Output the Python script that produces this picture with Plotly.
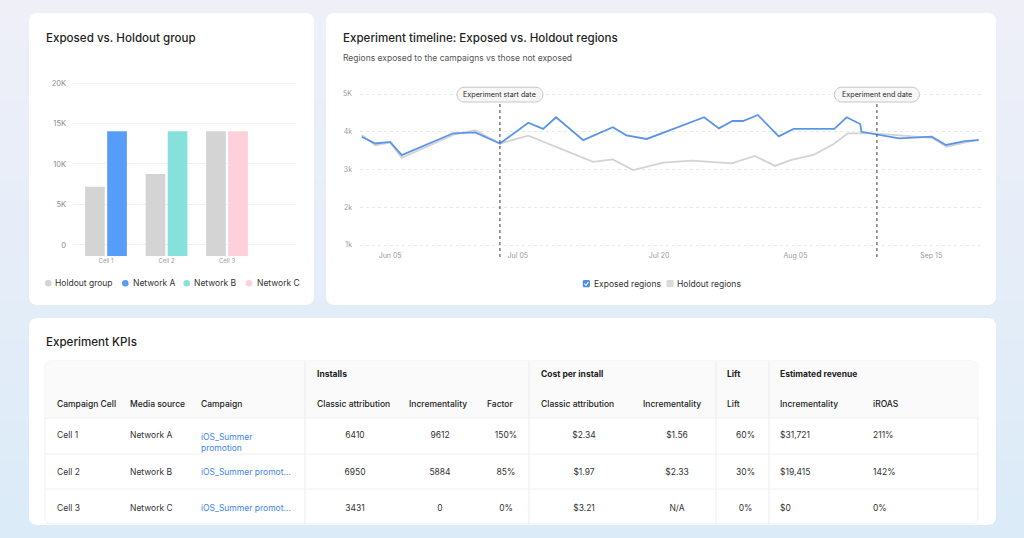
import plotly.graph_objects as go

W, H = 1024, 538
FONT = "Inter"

# ---------------- data: bar chart ----------------
CELLS = ["Cell 1", "Cell 2", "Cell 3"]
HOLDOUT_GROUP = [7200, 8750, 14050]
NETWORKS = ["Network A", "Network B", "Network C"]
NETWORK_VALUES = [14050, 14050, 14050]
BAR_TICKS = [0, 5000, 10000, 15000, 20000]
BAR_TICK_TEXT = ["0", "5K", "10K", "15K", "20K"]

# ---------------- data: timeline ----------------
T_EXPOSED = [0, 2.2, 4.6, 6.5, 14.8, 18.4, 22.4, 27.0, 29.4, 31.5, 35.9, 40.7, 42.9, 46.2,
             50.0, 55.5, 57.9, 60.1, 61.8, 64.2, 67.6, 70.0, 76.6, 78.6, 80.8, 81.0, 87.1,
             92.4, 94.7, 97.8, 100]
EXPOSED = [3870, 3690, 3730, 3380, 3960, 3985, 3690, 4240, 4075, 4385, 3780, 4120, 3905, 3810,
           4045, 4385, 4090, 4285, 4285, 4445, 3880, 4075, 4075, 4385, 4205, 4000, 3825,
           3870, 3650, 3755, 3780]
T_HOLDOUT = [0, 2.2, 4.6, 6.5, 14.8, 18.4, 22.4, 27.0, 37.5, 40.7, 44.0, 48.9, 53.5, 60.0,
             63.7, 67.0, 69.5, 73.2, 76.5, 78.8, 82.9, 87.1, 92.4, 94.8, 100]
HOLDOUT_REGIONS = [3915, 3640, 3710, 3310, 3915, 4045, 3690, 3895, 3205, 3270, 2985, 3180,
                   3235, 3165, 3360, 3095, 3250, 3385, 3675, 3960, 3960, 3900, 3840, 3600, 3800]
EXPERIMENT_START = 22.4
EXPERIMENT_END = 83.5
DATE_TICKS = [4.6, 25.3, 48.2, 70.3, 92.3]
DATE_TICK_TEXT = ["Jun 05", "Jul 05", "Jul 20", "Aug 05", "Sep 15"]
LINE_TICKS = [1000, 2000, 3000, 4000, 5000]
LINE_TICK_TEXT = ["1k", "2k", "3k", "4k", "5K"]

# ---------------- data: KPI table ----------------
TABLE_GROUPS = ["", "", "", "Installs", "", "", "Cost per install", "", "Lift",
                "Estimated revenue", ""]
TABLE_COLUMNS = ["Campaign Cell", "Media source", "Campaign", "Classic attribution",
                 "Incrementality", "Factor", "Classic attribution", "Incrementality", "Lift",
                 "Incrementality", "iROAS"]
CAMPAIGN_CELL = ["Cell 1", "Cell 2", "Cell 3"]
MEDIA_SOURCE = ["Network A", "Network B", "Network C"]
CAMPAIGN = ["iOS_Summer<br>promotion", "iOS_Summer promot…", "iOS_Summer promot…"]
INSTALLS_CLASSIC = [6410, 6950, 3431]
INSTALLS_INCR = [9612, 5884, 0]
FACTOR = ["150%", "85%", "0%"]
CPI_CLASSIC = [2.34, 1.97, 3.21]
CPI_INCR = [1.56, 2.33, None]
LIFT = ["60%", "30%", "0%"]
REV_INCR = [31721, 19415, 0]
IROAS = ["211%", "142%", "0%"]

# ---------------- styles ----------------
HOLDOUT_COLOR = "#d4d4d4"
NET_COLORS = ["#579cf8", "#86e1dc", "#fdd0dc"]
BLUE_LINE = "#5b95ea"
GRAY_LINE = "#d3d3d3"
TXT = "#1f1f1f"
BAR_FLOOR = -1400


def P(x, y):
    return f"{x / W:.5f},{1 - y / H:.5f}"


def rrect_path(x0, y0, x1, y1, r, fmt=P):
    c = 0.4477 * r
    return (f"M{fmt(x0 + r, y0)} L{fmt(x1 - r, y0)} C{fmt(x1 - c, y0)} {fmt(x1, y0 + c)} {fmt(x1, y0 + r)} "
            f"L{fmt(x1, y1 - r)} C{fmt(x1, y1 - c)} {fmt(x1 - c, y1)} {fmt(x1 - r, y1)} "
            f"L{fmt(x0 + r, y1)} C{fmt(x0 + c, y1)} {fmt(x0, y1 - c)} {fmt(x0, y1 - r)} "
            f"L{fmt(x0, y0 + r)} C{fmt(x0, y0 + c)} {fmt(x0 + c, y0)} {fmt(x0 + r, y0)} Z")


def pxfmt(x, y):
    return f"{x:.2f},{1 - y / H:.5f}"


def nb(s):
    return s.replace(" ", "\u00a0")


fig = go.Figure()

# ---- bars ----
fig.add_trace(go.Bar(x=CELLS, y=[v - BAR_FLOOR for v in HOLDOUT_GROUP], base=BAR_FLOOR,
                     offset=-0.345, width=0.325, marker=dict(color=HOLDOUT_COLOR, line_width=0),
                     name="Holdout group", xaxis="x", yaxis="y"))
for i, (net, val) in enumerate(zip(NETWORKS, NETWORK_VALUES)):
    fig.add_trace(go.Bar(x=[CELLS[i]], y=[val - BAR_FLOOR], base=BAR_FLOOR, offset=0.02,
                         width=0.325, marker=dict(color=NET_COLORS[i], line_width=0),
                         name=net, xaxis="x", yaxis="y"))

# ---- lines ----
fig.add_trace(go.Scatter(x=T_HOLDOUT, y=HOLDOUT_REGIONS, mode="lines", name="Holdout regions",
                         line=dict(color=GRAY_LINE, width=1.8), xaxis="x2", yaxis="y2"))
fig.add_trace(go.Scatter(x=T_EXPOSED, y=EXPOSED, mode="lines", name="Exposed regions",
                         line=dict(color=BLUE_LINE, width=1.8), xaxis="x2", yaxis="y2"))

# ---- table ----
header_vals = [[f"<b>{nb(g)}</b>" if g else "", nb(c)] for g, c in zip(TABLE_GROUPS, TABLE_COLUMNS)]
cell_vals = [
    [nb(v) for v in CAMPAIGN_CELL],
    [nb(v) for v in MEDIA_SOURCE],
    [nb(v) for v in CAMPAIGN],
    [str(v) for v in INSTALLS_CLASSIC],
    [str(v) for v in INSTALLS_INCR],
    FACTOR,
    [f"${v:.2f}" for v in CPI_CLASSIC],
    [f"${v:.2f}" if v is not None else "N/A" for v in CPI_INCR],
    LIFT,
    [f"${v:,}" for v in REV_INCR],
    IROAS,
]
fig.add_trace(go.Table(
    domain=dict(x=[49 / W, 980 / W], y=[0, 1 - 361 / H]),
    columnwidth=[73, 71, 116, 92, 78, 54, 102, 84, 53, 93, 115],
    header=dict(values=header_vals, height=31.5, align="left",
                fill=dict(color="rgba(0,0,0,0)"), line=dict(color="rgba(0,0,0,0)", width=0),
                font=dict(family=FONT, size=8.5, color="#222222", weight=500)),
    cells=dict(values=cell_vals, height=36,
               align=["left"] * 3 + ["center"] * 6 + ["left"] * 2,
               fill=dict(color="rgba(0,0,0,0)"), line=dict(color="rgba(0,0,0,0)", width=0),
               font=dict(family=FONT, size=8.5,
                         color=["#333333", "#333333", "#3f86e8"] + ["#333333"] * 8)),
))

# ---------------- shapes ----------------
shapes = []
top_c = (239, 239, 248)
bot_c = (219, 235, 248)
n = 27
for i in range(n):
    t = i / (n - 1)
    col = tuple(round(a + (b - a) * t) for a, b in zip(top_c, bot_c))
    shapes.append(dict(type="rect", xref="paper", yref="paper", x0=0, x1=1,
                       y0=1 - min(H, (i + 1) * 20 + 1) / H, y1=1 - i * 20 / H,
                       fillcolor=f"rgb{col}", line=dict(width=0), layer="below"))
for (x0, y0, x1, y1) in [(29, 13, 314, 305), (326, 13, 996, 305), (29, 318, 996, 525)]:
    shapes.append(dict(type="path", xref="paper", yref="paper", path=rrect_path(x0, y0, x1, y1, 8),
                       fillcolor="#ffffff", line=dict(width=0), layer="below"))
# table frame
shapes.append(dict(type="path", xref="paper", yref="paper", path=rrect_path(45, 361, 978, 524, 6),
                   fillcolor="#ffffff", line=dict(color="#f0f0f0", width=1), layer="below"))
shapes.append(dict(type="path", xref="paper", yref="paper", path=rrect_path(45, 361, 978, 418, 6),
                   fillcolor="#fafafa", line=dict(width=0), layer="below"))
for yy in [418, 454, 489]:
    shapes.append(dict(type="line", xref="paper", yref="paper", x0=45 / W, x1=978 / W,
                       y0=1 - yy / H, y1=1 - yy / H, line=dict(color="#f0f0f0", width=1), layer="below"))
for xx in [305, 529, 716, 769]:
    shapes.append(dict(type="line", xref="paper", yref="paper", x0=xx / W, x1=xx / W,
                       y0=1 - 361 / H, y1=1 - 524 / H, line=dict(color="#ececec", width=1), layer="below"))
# bar legend dots
for cx, colr in zip([48.3, 125.3, 186.7, 249], [HOLDOUT_COLOR] + NET_COLORS):
    shapes.append(dict(type="circle", xref="paper", yref="paper", x0=(cx - 3.3) / W, x1=(cx + 3.3) / W,
                       y0=1 - (283.3 + 3.3) / H, y1=1 - (283.3 - 3.3) / H,
                       fillcolor=colr, line=dict(width=0)))
# line legend checkboxes
shapes.append(dict(type="path", xref="paper", yref="paper", path=rrect_path(582.8, 280, 590, 287.2, 1.5),
                   fillcolor="#4a8cf0", line=dict(width=0)))
shapes.append(dict(type="path", xref="paper", yref="paper",
                   path=f"M{P(584.4, 283.7)} L{P(586.0, 285.4)} L{P(588.5, 281.9)}",
                   line=dict(color="#ffffff", width=1.1)))
shapes.append(dict(type="path", xref="paper", yref="paper", path=rrect_path(666.5, 280, 673.7, 287.2, 1.5),
                   fillcolor="#dadada", line=dict(width=0)))
# experiment markers
for xv in [EXPERIMENT_START, EXPERIMENT_END]:
    shapes.append(dict(type="line", xref="x2", yref="paper", x0=xv, x1=xv,
                       y0=1 - 257 / H, y1=1 - 102 / H,
                       line=dict(color="#5a5a5a", width=1.2, dash="3px,3px"), layer="above"))
for xv, w in [(EXPERIMENT_START, 86), (EXPERIMENT_END, 85)]:
    shapes.append(dict(type="path", xref="x2", yref="paper", xsizemode="pixel", xanchor=xv,
                       path=rrect_path(-w / 2, 87.2, w / 2, 102, 7.4, fmt=pxfmt),
                       fillcolor="#f7f7f7", line=dict(color="#c6c6c6", width=1), layer="above"))

# ---------------- annotations ----------------
ann = []


def text(x, y, s, size, color=TXT, weight=400, xref="paper", anchor="left"):
    ann.append(dict(x=x if xref != "paper" else x / W, y=1 - y / H, xref=xref, yref="paper",
                    text=s, showarrow=False, xanchor=anchor, yanchor="middle",
                    font=dict(family=FONT, size=size, color=color, weight=weight)))


text(44, 38.3, "Exposed vs. Holdout group", 11.6, weight=500)
text(341, 38.3, "Experiment timeline: Exposed vs. Holdout regions", 11.6, weight=500)
text(341, 58, "Regions exposed to the campaigns vs those not exposed", 8.5, color="#555555")
text(44, 342.3, "Experiment KPIs", 11.6, weight=500)
for x, s in zip([53.3, 130.7, 192.3, 255], ["Holdout group"] + NETWORKS):
    text(x, 283.3, s, 8.5, color="#333333")
text(591.7, 283.7, "Exposed regions", 8.5, color="#333333")
text(675, 283.7, "Holdout regions", 8.5, color="#333333")
text(EXPERIMENT_START, 94.6, "Experiment start date", 7.2, color="#2a2a2a", xref="x2", anchor="center")
text(EXPERIMENT_END, 94.6, "Experiment end date", 7.2, color="#2a2a2a", xref="x2", anchor="center")

fig.update_layout(
    width=W, height=H, margin=dict(l=0, r=0, t=0, b=0),
    paper_bgcolor="#ecedf7", plot_bgcolor="rgba(0,0,0,0)",
    font=dict(family=FONT, color=TXT),
    showlegend=False, hovermode=False, barmode="overlay",
    shapes=shapes, annotations=ann,
    xaxis=dict(domain=[73 / W, 296 / W], type="category", range=[-0.545, 3.14],
               showgrid=False, zeroline=False, showline=False, ticks="",
               tickfont=dict(family=FONT, size=6, color="#9a9a9a"), fixedrange=True),
    yaxis=dict(domain=[1 - 256.3 / H, 1 - 75 / H], range=[BAR_FLOOR, 20988],
               tickvals=BAR_TICKS, ticktext=BAR_TICK_TEXT, showgrid=True, gridcolor="#f0f0f0",
               gridwidth=1, zeroline=False, showline=False, ticks="", ticklabelstandoff=6,
               tickfont=dict(family=FONT, size=7.5, color="#8c8c8c"), fixedrange=True),
    xaxis2=dict(domain=[360 / W, 983 / W], range=[-0.28, 100.7], anchor="y2",
                tickvals=DATE_TICKS, ticktext=DATE_TICK_TEXT, showgrid=False, zeroline=False,
                showline=False, ticks="", tickfont=dict(family=FONT, size=7, color="#9a9a9a"),
                fixedrange=True),
    yaxis2=dict(domain=[1 - 250 / H, 1 - 84.6 / H], range=[867.5, 5250], anchor="x2",
                tickvals=LINE_TICKS, ticktext=LINE_TICK_TEXT, showgrid=True, gridcolor="#e8e8e8",
                griddash="dot", gridwidth=1, zeroline=False, showline=False, ticks="",
                ticklabelstandoff=7, tickfont=dict(family=FONT, size=7, color="#9a9a9a"),
                fixedrange=True),
)

fig.write_html("out.html", config={"displayModeBar": False})
